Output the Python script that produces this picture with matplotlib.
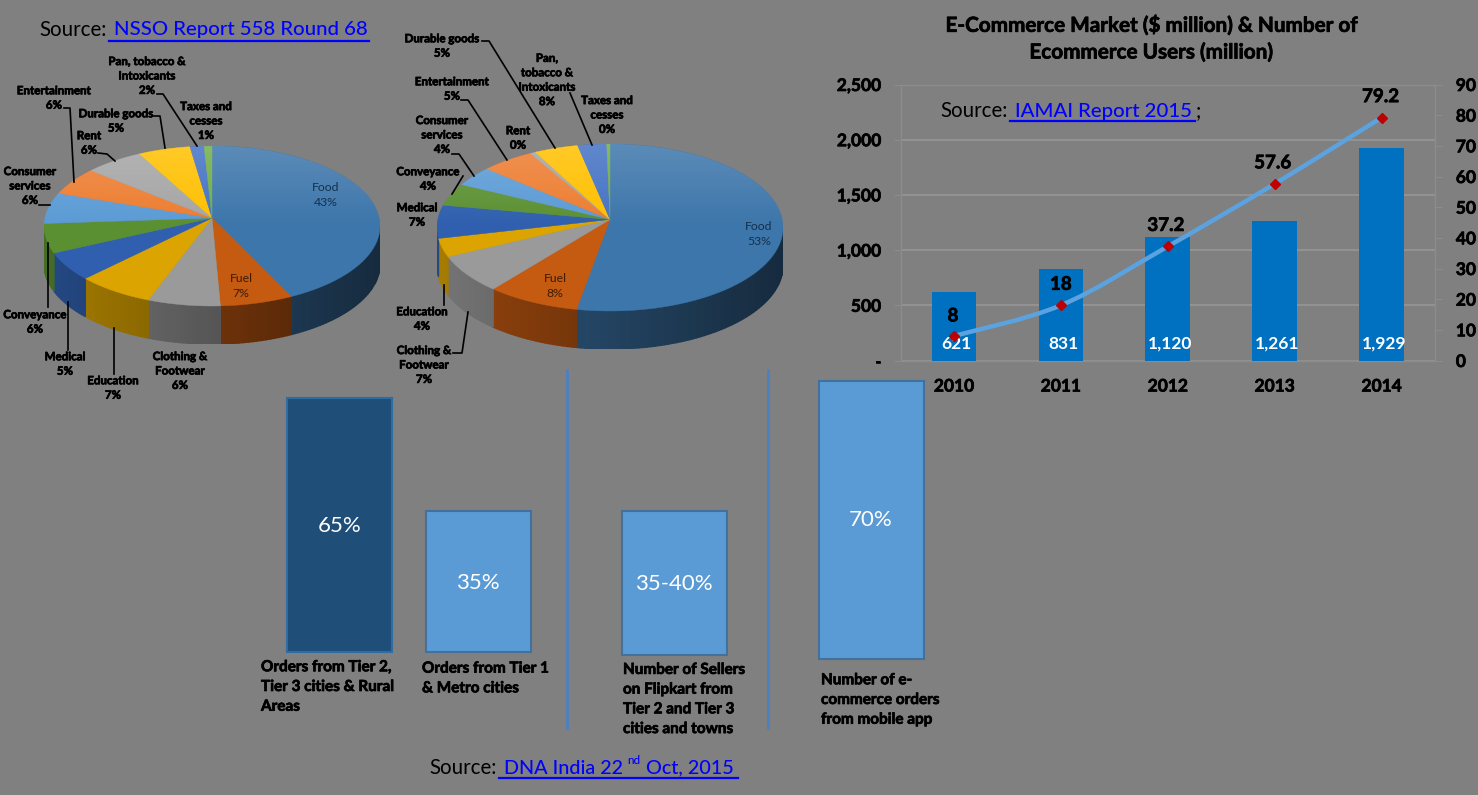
#!/usr/bin/env python3
# -*- coding: utf-8 -*-
import numpy as np
import matplotlib
matplotlib.use("Agg")
import matplotlib.pyplot as plt
import matplotlib.patheffects as pe
from matplotlib.path import Path
from matplotlib.patches import PathPatch, Ellipse

W, H = 1478, 795
BG = "#808080"
FONT = "Lato"

pie_colors = ["#3d76ab", "#c55a11", "#9a9a9a", "#dba400", "#2f5fae", "#5b9032",
	"#5b9bd5", "#ed7d31", "#a5a5a5", "#ffc000", "#4472c4", "#70ad47"]

# left pie, slice sizes as measured on the picture (clockwise from the top)
left_values = [42.2, 7.0, 7.0, 7.4, 5.9, 6.0, 6.2, 5.5, 5.7, 5.0, 1.35, 0.75]
# right pie
right_values = [53.1, 8.7, 7.5, 3.6, 6.4, 4.3, 3.8, 5.0, 0.5, 4.1, 2.7, 0.3]

years = ["2010", "2011", "2012", "2013", "2014"]
market = [621, 831, 1120, 1261, 1929]
market_labels = ["621", "831", "1,120", "1,261", "1,929"]
users = [8, 18, 37.2, 57.6, 79.2]
users_labels = ["8", "18", "37.2", "57.6", "79.2"]
left_ticks = [0, 500, 1000, 1500, 2000, 2500]
left_tick_labels = ["-", "500", "1,000", "1,500", "2,000", "2,500"]
right_ticks = [0, 10, 20, 30, 40, 50, 60, 70, 80, 90]

share_values = [64, 35.4, 36.3, 70]
share_labels = ["65%", "35%", "35-40%", "70%"]

# the black bold text of the reference is thick and smeared
HEAVY = [pe.withStroke(linewidth=0.5, foreground="black")]


def px_axes(fig, x0, y0, x1, y1, **kw):
	# axes from a box given in image pixels (y going down)
	return fig.add_axes([x0 / W, 1 - y1 / H, (x1 - x0) / W, (y1 - y0) / H], **kw)


def shade(color, f):
	return tuple(np.array(matplotlib.colors.to_rgb(color)) * f)


def draw_pie(fig, cx, cy, a, b, depth, apex, values, colors):
	ax = px_axes(fig, cx - a, cy - b, cx + a, cy + b + depth)
	ax.set_xlim(-1, 1)
	ax.set_ylim(-1 - depth / b, 1)
	ax.axis("off")
	ax.patch.set_alpha(0)
	d = depth / b
	edges = np.cumsum([0] + list(values)) / sum(values) * 2 * np.pi
	# side wall, only the front half of the rim shows
	for i in range(len(values)):
		t0, t1 = max(edges[i], np.pi / 2), min(edges[i + 1], 3 * np.pi / 2)
		if t1 <= t0:
			continue
		steps = np.linspace(t0, t1, max(2, int((t1 - t0) * 40)))
		for s0, s1 in zip(steps[:-1], steps[1:]):
			xs = np.sin([s0, s1])
			ys = np.cos([s0, s1])
			f = 0.56 - 0.2 * xs.mean()
			ax.fill([xs[0], xs[1], xs[1], xs[0]], [ys[0], ys[1], ys[1] - d, ys[0] - d],
				color=shade(colors[i], f), lw=1.0, zorder=1)
	# top surface
	for i in range(len(values)):
		t = np.linspace(edges[i], edges[i + 1], 80)
		ax.fill(np.r_[0, np.sin(t)], np.r_[apex / b, np.cos(t)], color=colors[i], lw=0.3, zorder=2)
	# soft light on the back of the disc
	grad = np.ones((100, 2, 4))
	grad[:, :, 3] = np.linspace(0.16, 0, 100)[:, None]
	img = ax.imshow(grad, extent=(-1, 1, 0, 1), aspect="auto", zorder=3)
	img.set_clip_path(Ellipse((0, 0), 2, 2, transform=ax.transData))
	ax.set_xlim(-1, 1)
	ax.set_ylim(-1 - d, 1)


def smooth_path(x, y):
	# Catmull-Rom through the data points, as the spreadsheet smooth line does
	pts = np.column_stack([x, y]).astype(float)
	verts = [pts[0]]
	codes = [Path.MOVETO]
	for i in range(len(pts) - 1):
		p0 = pts[max(i - 1, 0)]
		p3 = pts[min(i + 2, len(pts) - 1)]
		verts += [pts[i] + (pts[i + 1] - p0) / 6, pts[i + 1] - (p3 - pts[i]) / 6, pts[i + 1]]
		codes += [Path.CURVE4] * 3
	return Path(verts, codes)


def draw_market(fig):
	ax = px_axes(fig, 900.5, 84.5, 1435, 360.5)
	ax.set_facecolor("none")
	x = np.arange(len(years))
	ax.bar(x, market, width=0.417, color="#0070c0", zorder=3)
	ax.set_xlim(-0.5, 4.5)
	ax.set_ylim(0, 2500)
	ax.set_yticks(left_ticks, left_tick_labels)
	ax.set_xticks(x, years)
	ax.grid(axis="y", color="#929292", lw=1.5, zorder=1)
	for s in ax.spines.values():
		s.set_color("#8c8c8c")
		s.set_linewidth(1)
	ax.tick_params(axis="y", length=5, color="#8c8c8c", pad=9, labelsize=12.5)
	ax.tick_params(axis="x", length=0, pad=13, labelsize=12.5)
	for lab in ax.get_xticklabels() + ax.get_yticklabels():
		lab.set_fontweight("bold")
		lab.set_path_effects(HEAVY)
	for i, s in enumerate(market_labels):
		ax.annotate(s, (i, 0), xytext=(2, 12), textcoords="offset points", ha="center", va="center",
			color="white", fontweight="bold", fontsize=12.5, zorder=6)

	ax2 = ax.twinx()
	ax2.set_facecolor("none")
	ax2.set_ylim(0, 90)
	ax2.set_yticks(right_ticks)
	ax2.tick_params(axis="y", length=5, color="#8c8c8c", pad=10, labelsize=12.5)
	for lab in ax2.get_yticklabels():
		lab.set_fontweight("bold")
		lab.set_path_effects(HEAVY)
	for s in ax2.spines.values():
		s.set_visible(False)
	ax2.add_patch(PathPatch(smooth_path(x, users), fc="none", ec="#5ba3e0", lw=3.2, capstyle="round", zorder=4))
	ax2.plot(x, users, ls="none", marker="D", ms=5, color="#c00000", zorder=5)
	# labels sit a little over their markers, the first two are inside the bars
	offsets = [(-1, 20), (0, 21), (-2, 21), (-2, 21), (-1, 21)]
	for i, s in enumerate(users_labels):
		ax2.annotate(s, (i, users[i]), xytext=offsets[i], textcoords="offset pixels", ha="center", va="center",
			color="black", fontweight="bold", fontsize=13.5, zorder=6, path_effects=HEAVY)


def draw_shares(fig):
	scale = 3.97
	ax = px_axes(fig, 280, 375, 930, 665)
	ax.set_xlim(280, 930)
	ax.set_ylim(-13 / scale, 277 / scale)
	ax.axis("off")
	ax.patch.set_alpha(0)
	centers = [339.5, 478, 674, 871]
	bottoms = [0, 0, -3 / scale, -7 / scale]
	fills = ["#1f4e79", "#5b9bd5", "#5b9bd5", "#5b9bd5"]
	edges = ["#2e6da4", "#41719c", "#41719c", "#41719c"]
	ax.bar(centers, share_values, width=105, bottom=bottoms, color=fills, edgecolor=edges, lw=1.5)
	label_y = [526, 583, 584, 520]
	for c, s, ly in zip(centers, share_labels, label_y):
		ax.text(c, (652 - ly) / scale, s, color="white", fontsize=16, ha="center", va="center")


def draw_canvas(fig):
	cv = px_axes(fig, 0, 0, W, H)
	cv.set_xlim(0, W)
	cv.set_ylim(H, 0)
	cv.axis("off")
	cv.patch.set_alpha(0)

	def source(x, y, sx, under, parts):
		cv.text(x, y, "Source:", fontsize=14.8, ha="left", va="center", color="black")
		for px_, txt, size, dy in parts:
			cv.text(px_, y + dy, txt, fontsize=size, ha="left", va="center", color="#0000ff", fontweight="medium")
		cv.plot(under, [sx, sx], color="#0000ff", lw=1.6)

	source(39, 30, 40.5, [109, 369], [(114, "NSSO Report 558 Round 68", 14.7, 0)])
	source(940, 111, 121, [1010, 1195], [(1015, "IAMAI Report 2015", 14.7, 0)])
	cv.text(1196, 111, ";", fontsize=14.8, ha="left", va="center", color="black")
	source(429, 768, 778, [499, 738], [(504, "DNA India 22", 14.2, 0), (627, "nd", 8.5, -7), (646, "Oct, 2015", 14.2, 0)])

	cv.text(1151, 38.5, "E-Commerce Market ($ million) & Number of\nEcommerce Users (million)", fontsize=14.9,
		fontweight="bold", ha="center", va="center", linespacing=1.42, path_effects=HEAVY)

	# pie labels: text, x, y
	left_labels = [
		("Clothing &\nFootwear\n6%", 180, 371), ("Education\n7%", 113, 388), ("Medical\n5%", 65, 364),
		("Conveyance\n6%", 35, 322), ("Consumer\nservices\n6%", 30, 186), ("Entertainment\n6%", 54, 98),
		("Rent\n6%", 89, 143), ("Durable goods\n5%", 116, 121), ("Pan, tobacco &\nIntoxicants\n2%", 147, 76),
		("Taxes and\ncesses\n1%", 206, 121),
	]
	right_labels = [
		("Clothing &\nFootwear\n7%", 424, 365), ("Education\n4%", 422, 319), ("Medical\n7%", 417, 215),
		("Conveyance\n4%", 428, 179), ("Consumer\nservices\n4%", 442, 135), ("Entertainment\n5%", 452, 89),
		("Rent\n0%", 518, 138), ("Durable goods\n5%", 442, 46), ("Pan,\ntobacco &\nIntoxicants\n8%", 547, 80),
		("Taxes and\ncesses\n0%", 607, 115),
	]
	for s, x, y in left_labels + right_labels:
		cv.text(x, y, s, fontsize=8.3, fontweight="bold", ha="center", va="center", linespacing=1.38, path_effects=HEAVY)
	for s, x, y, c in [("Food\n43%", 326, 195, "#14304d"), ("Fuel\n7%", 241, 286, "#3d1c05"),
		("Food\n53%", 759, 234, "#14304d"), ("Fuel\n8%", 555, 286, "#3d1c05")]:
		cv.text(x, y, s, fontsize=8.8, ha="center", va="center", color=c, linespacing=1.4)

	leaders = [
		[(64, 108), (70, 108), (74, 182)], [(98, 153), (107, 154), (115, 161)],
		[(153, 116), (160, 116), (165, 148)], [(157, 94), (163, 94), (197, 146)],
		[(39, 205), (50, 205)], [(48, 307), (48, 243)], [(68, 350), (68, 302)], [(114, 374), (114, 328)],
		[(482, 41), (489, 41), (555, 148)], [(570, 93), (592, 145)], [(461, 100), (468, 100), (507, 160)],
		[(452, 154), (459, 154), (474, 176)], [(463, 176), (452, 194)],
		[(453, 353), (462, 353), (468, 312)], [(444, 305), (444, 285)],
	]
	for pts in leaders:
		xs, ys = zip(*pts)
		cv.plot(xs, ys, color="black", lw=1.2)

	for x in [567, 768]:
		cv.plot([x, x], [370, 728], color="#4a80c4", lw=2)

	notes = [
		("Orders from Tier 2,\nTier 3 cities & Rural\nAreas", 261, 687),
		("Orders from Tier 1\n& Metro cities", 422, 678.5),
		("Number of Sellers\non Flipkart from\nTier 2 and Tier 3\ncities and towns", 623, 699.5),
		("Number of e-\ncommerce orders\nfrom mobile app", 821, 700),
	]
	for s, x, y in notes:
		cv.text(x, y, s, fontsize=11, fontweight="bold", ha="left", va="center", linespacing=1.52, path_effects=HEAVY)


def main():
	plt.rcParams["font.family"] = [FONT, "DejaVu Sans"]
	fig = plt.figure(figsize=(W / 100, H / 100), dpi=100, facecolor=BG)
	draw_pie(fig, 212, 226, 168, 80, 38, 8, left_values, pie_colors)
	draw_pie(fig, 610, 227.5, 173, 83.5, 38, 8, right_values, pie_colors)
	draw_market(fig)
	draw_shares(fig)
	draw_canvas(fig)
	fig.savefig("out.png", dpi=100, facecolor=BG)


if __name__ == '__main__':
	main()
